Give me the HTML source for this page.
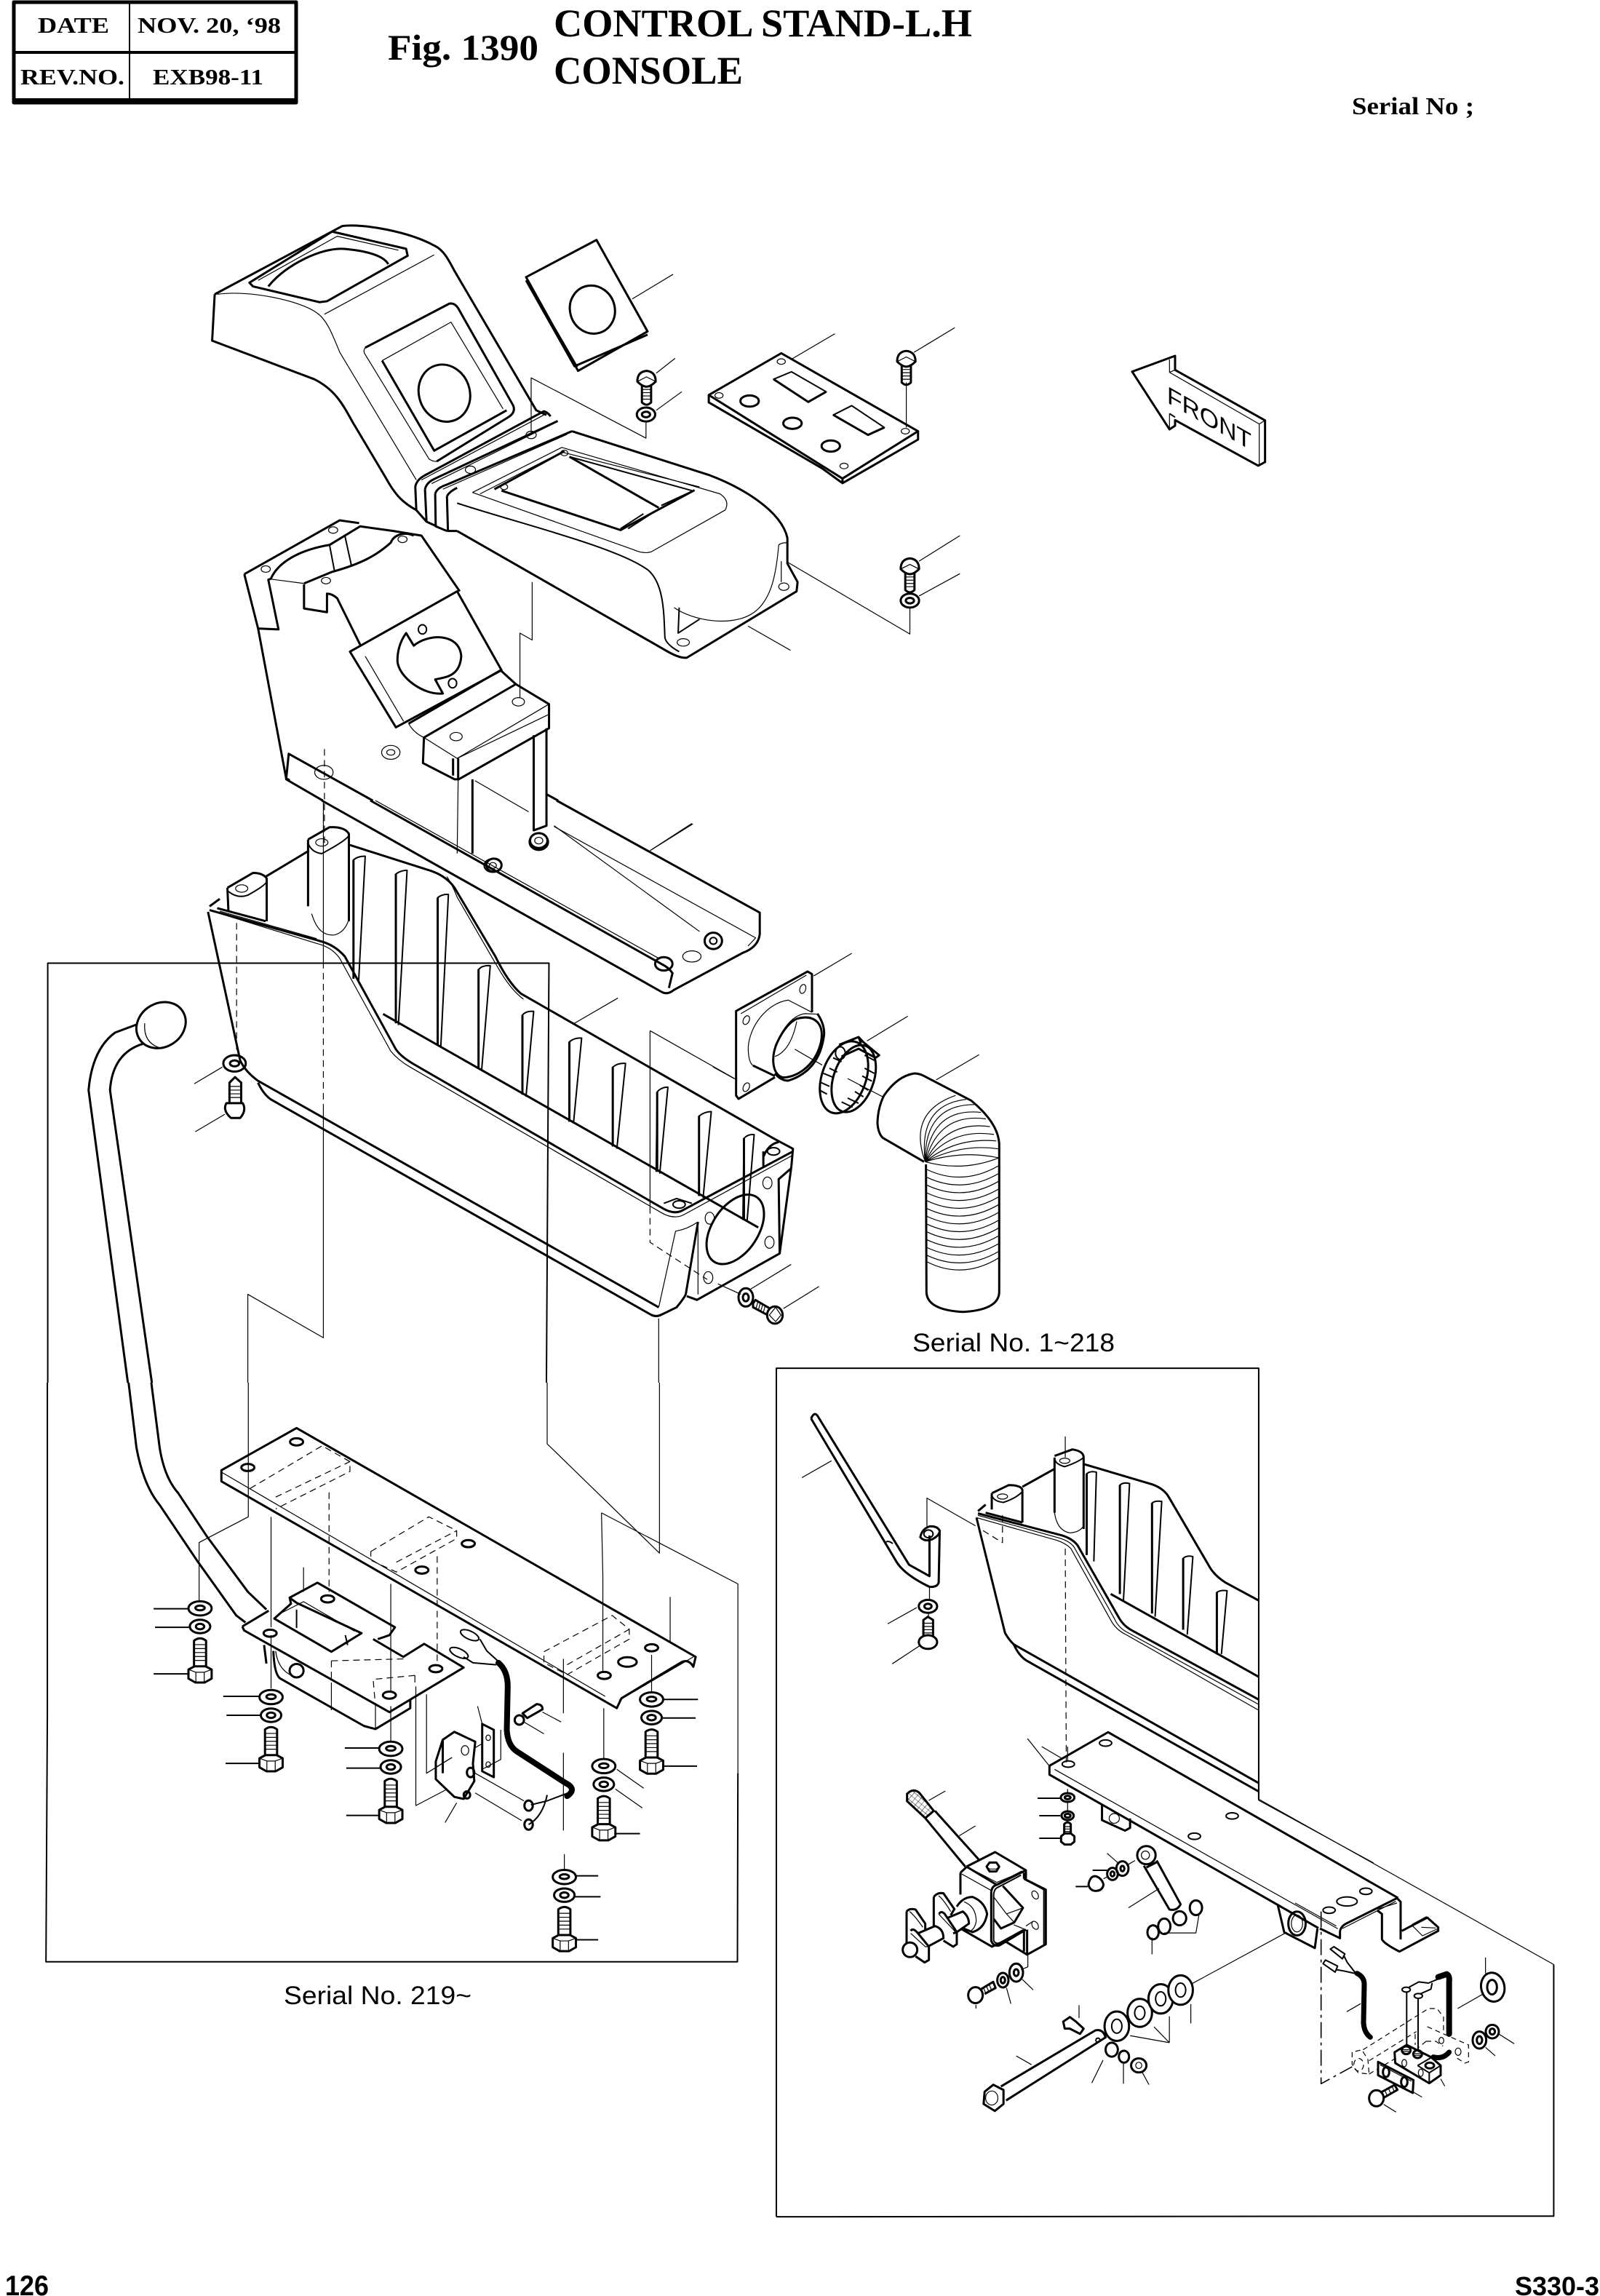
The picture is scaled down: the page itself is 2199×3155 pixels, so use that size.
<!DOCTYPE html>
<html><head><meta charset="utf-8"><title>Fig. 1390 Control Stand-L.H Console</title>
<style>
html,body{margin:0;padding:0;background:#fff}
svg{display:block}
path,ellipse,line,rect{fill:none;stroke:#000;stroke-width:1.2;vector-effect:non-scaling-stroke;stroke-linejoin:round}
.t{stroke-width:3}
.m{stroke-width:2}
.d{stroke-dasharray:9 6}
.w{fill:#fff}
.k{stroke-width:6;stroke-linecap:round}
.x{fill:url(#chk)}
text{stroke:none;fill:#000}
.s{font-family:"Liberation Serif",serif;font-weight:bold}
.a{font-family:"Liberation Sans",sans-serif}
</style></head><body>
<svg xmlns="http://www.w3.org/2000/svg" width="2199" height="3155" viewBox="0 0 2199 3155">
<defs>
<pattern id="chk" width="36" height="36" patternUnits="userSpaceOnUse" patternTransform="rotate(40)"><rect width="36" height="36" fill="#fff" stroke="none"/><rect width="18" height="18" fill="#000" stroke="none"/><rect x="18" y="18" width="18" height="18" fill="#000" stroke="none"/></pattern>
<g id="stk">
<ellipse class="t w" rx="25" ry="18"/><ellipse class="t" rx="10" ry="6" cy="-1"/>
<ellipse class="t w" rx="22" ry="17" cy="46"/><ellipse class="t" rx="9" ry="7" cy="46"/>
<path class="t" d="M-13,150 L-13,82 Q0,70 13,82 L13,150"/>
<path d="M-13,92 H13 M-13,102 H13 M-13,112 H13 M-13,122 H13 M-13,132 H13"/>
<path class="t w" d="M-25,155 L-12,147 L12,147 L25,155 L25,178 L10,188 L-10,188 L-25,178 Z"/>
<path d="M-25,155 L-9,162 L9,162 L25,155 M-9,162 V188 M9,162 V188"/>
</g>
<g id="dome">
<path class="t" d="M-9,14 L-9,50 Q0,60 9,50 L9,14"/>
<path d="M-9,22 H9 M-9,29 H9 M-9,36 H9 M-9,43 H9"/>
<path class="t w" d="M-18,5 Q-18,-16 0,-18 Q18,-16 18,5 Q8,16 0,16 Q-8,16 -18,5 Z"/>
<path d="M-18,5 L0,-5 L18,5"/>
</g>
</defs>

<!-- HEADER -->
<rect x="19" y="3" width="388" height="138" style="stroke-width:5"/>
<path d="M19,72 H407" style="stroke-width:4"/>
<path d="M178,3 V141" style="stroke-width:2"/>
<path d="M19,137 H407 " style="stroke-width:4"/>
<g class="s">
<text x="52" y="45" font-size="31" textLength="98" lengthAdjust="spacingAndGlyphs">DATE</text>
<text x="189" y="45" font-size="31" textLength="197" lengthAdjust="spacingAndGlyphs">NOV. 20, ‘98</text>
<text x="28" y="116" font-size="31" textLength="143" lengthAdjust="spacingAndGlyphs">REV.NO.</text>
<text x="210" y="116" font-size="31" textLength="152" lengthAdjust="spacingAndGlyphs">EXB98-11</text>
<text x="533" y="82" font-size="50" textLength="207" lengthAdjust="spacingAndGlyphs">Fig. 1390</text>
<text x="761" y="50" font-size="54" textLength="575" lengthAdjust="spacingAndGlyphs">CONTROL STAND-L.H</text>
<text x="761" y="115" font-size="54" textLength="260" lengthAdjust="spacingAndGlyphs">CONSOLE</text>
<text x="1858" y="157" font-size="34" textLength="168" lengthAdjust="spacingAndGlyphs">Serial No ;</text>
</g>
<text class="a" x="7" y="3154" font-size="39" font-weight="bold" textLength="60" lengthAdjust="spacingAndGlyphs">126</text>
<text class="a" x="2082" y="3154" font-size="36" font-weight="bold" textLength="116" lengthAdjust="spacingAndGlyphs">S330-3</text>
<text class="a" x="1254" y="1857" font-size="35" textLength="278" lengthAdjust="spacingAndGlyphs">Serial No. 1~218</text>
<text class="a" x="390" y="2754" font-size="35" textLength="258" lengthAdjust="spacingAndGlyphs">Serial No. 219~</text>

<!-- FRONT arrow -->
<g transform="matrix(.3333 0 0 .3333 1500 440)">
<path class="t" d="M168,212 L345,147 L345,205 L716,413 L716,585 L688,600 L345,412 L345,435 L322,450 Z"/>
<path d="M322,162 L322,215 L692,428 L692,600 M345,205 L322,215 M716,413 L692,428 M322,385 L322,450"/>
<path class="m" d="M322,385 L345,400"/>
</g>
<text class="a" font-size="33" transform="matrix(1 .57 0 1 1604 553)" textLength="116" lengthAdjust="spacingAndGlyphs">FRONT</text>

<!-- TOP CONSOLE / BRACKET (zoom 2 coordinates) -->
<g transform="matrix(.7015 0 0 .6378 260 280)">
<path class="t" d="M50,195 L45,295 L245,378 C285,400 300,430 320,470 L385,590 C405,630 420,645 445,660"/>
<path class="t" d="M50,195 L300,48 C340,42 430,60 480,90 C500,100 510,125 520,145 L680,445 L700,455"/>
<path class="t" d="M118,170 L280,60 L425,97 L428,112 L270,210 L255,212 L125,178 Z"/>
<path class="t" d="M155,178 C190,130 260,95 300,97 C340,100 380,110 390,130"/>
<path d="M135,165 L290,70 L410,100 M265,238 L480,110 M55,195 C120,185 220,210 250,235 C270,250 280,280 295,320 L445,595"/>
<path d="M345,310 L510,215 Q520,213 527,225 L635,435 Q640,450 625,460 L485,555 Q478,556 470,550 L345,325 Q340,318 345,310 Z"/>
<path class="t" d="M345,310 L510,215 Q520,213 527,225 L635,435 Q640,450 625,460 L485,555"/>
<path d="M378,338 L513,255 L615,442"/>
<path class="t" d="M378,338 L480,532 L622,445"/>
<ellipse class="t" cx="500" cy="408" rx="50" ry="62" transform="rotate(-12 500 408)"/>
<!-- bellows -->
<path class="t" d="M443,610 Q445,595 462,585 L695,447 Q703,450 708,458 M462,615 Q465,600 482,592 L722,468 M482,625 Q485,612 505,605 L750,490 M505,630 Q510,620 525,612"/>
<path d="M455,595 L695,455 M475,603 L715,473 M497,615 L740,497"/>
<path class="t" d="M443,610 L445,660 L465,685 M462,615 L465,685 L485,695 M482,625 L483,695 L505,705 M505,630 L507,705 L525,705"/>
<!-- lower housing -->
<path class="t" d="M750,490 L1020,585 C1080,610 1160,660 1172,720 L1172,775 L1192,815 L1190,835 L975,978 Q960,980 930,960 L525,705"/>
<path class="m" d="M525,645 C650,690 840,740 900,790 C930,820 930,880 932,935 Q935,950 960,965"/>
<path d="M555,622 L730,525 L1040,625 Q1060,640 1050,660 L905,750 Q890,755 870,745 L555,622"/>
<path d="M570,625 L730,535 L1000,610"/>
<path class="t" d="M598,615 L735,533 M745,545 L920,655 M612,618 L845,703 L990,617"/>
<path class="m" d="M745,545 L985,618 M845,700 L890,668 M925,650 L990,617 M860,700 L905,668"/>
<ellipse cx="968" cy="945" rx="12" ry="8"/><ellipse cx="1165" cy="825" rx="10" ry="8"/><ellipse cx="735" cy="537" rx="7" ry="6"/><ellipse cx="617" cy="610" rx="7" ry="6"/>
<path class="m" d="M960,870 L958,925 L1000,895"/>
<path d="M950,870 C990,900 1060,910 1100,885 C1140,860 1150,800 1155,735 Q1160,730 1172,730 M1160,770 L1160,815"/>
<ellipse cx="670" cy="498" rx="10" ry="8"/><ellipse cx="551" cy="573" rx="10" ry="8"/>
<path d="M1095,910 L1178,962 M1172,772 L1412,927 L1412,870 M670,495 L670,375 L895,505 L895,470 M672,815 L672,940 L648,925 L648,1065"/>
<!-- cover plate -->
<path class="t" d="M660,158 L798,78 L898,275 L762,360 Z M664,170 L760,352"/>
<path class="t" d="M660,165 L755,350 L898,282"/>
<ellipse class="t" cx="790" cy="228" rx="44" ry="52" transform="rotate(-10 790 228)"/>
<path d="M868,205 L948,152 M915,365 L952,333 M915,445 L965,405 M1420,320 L1500,267 M1405,385 L1405,482 M1430,770 L1510,715 M1430,845 L1510,797 M1180,335 L1265,280"/>
<use href="#dome" x="896" y="378"/>
<ellipse class="t" cx="895" cy="454" rx="18" ry="15"/><ellipse class="t" cx="895" cy="454" rx="8" ry="6"/>
<use href="#dome" x="1405" y="335"/>
<use href="#dome" x="1412" y="782"/>
<ellipse class="t" cx="1412" cy="855" rx="18" ry="15"/><ellipse class="t" cx="1412" cy="855" rx="8" ry="6"/>
<!-- switch plate -->
<path class="t" d="M1018,412 L1160,322 L1428,490 L1280,592 Z"/>
<path class="t" d="M1018,412 L1018,428 L1240,570 Q1265,590 1280,602 L1428,508 L1428,490 M1280,592 L1280,602"/>
<path class="m" d="M1145,378 L1180,362 L1248,405 L1213,427 Z M1262,455 L1298,435 L1362,482 L1330,498 Z"/>
<path class="t" d="M1145,378 L1213,427 L1248,405 M1262,455 L1330,498 L1362,482"/>
<ellipse class="t" cx="1098" cy="425" rx="18" ry="12"/><ellipse class="t" cx="1182" cy="473" rx="18" ry="12"/><ellipse class="t" cx="1257" cy="522" rx="18" ry="12"/>
<ellipse cx="1038" cy="413" rx="8" ry="6"/><ellipse cx="1160" cy="340" rx="8" ry="6"/><ellipse cx="1283" cy="565" rx="8" ry="6"/><ellipse cx="1403" cy="490" rx="8" ry="6"/>
<!-- bracket -->
<path class="t" d="M108,798 L295,682 L333,688 M108,798 L135,915 L190,1238 L197,1242 M135,915 L175,917 L155,810 L160,808"/>
<path class="t" d="M160,808 C175,770 220,745 275,735 L335,695 L400,705 L455,715 L530,835"/>
<path d="M155,808 L225,818"/>
<path class="t" d="M225,818 L280,793 C340,775 370,755 395,730 C400,715 420,705 440,715 M225,820 L225,872 L270,880 L270,840 Q280,840 290,850 L335,950"/>
<path class="m" d="M275,735 L285,793 M305,715 L318,780"/>
<ellipse cx="150" cy="787" rx="9" ry="7"/><ellipse cx="282" cy="703" rx="9" ry="7"/><ellipse cx="268" cy="812" rx="9" ry="7"/><ellipse cx="418" cy="723" rx="9" ry="7"/>
<path class="t" d="M315,965 L525,835 L612,1005 L405,1128 Z"/>
<path d="M345,975 L420,1115"/>
<path class="t" d="M425,925 L440,952 C470,925 530,925 533,975 C530,1020 500,1020 482,1025 L497,1055 C460,1060 410,1020 408,985 C408,960 415,940 425,925 Z"/>
<ellipse class="m" cx="457" cy="917" rx="8" ry="10"/><ellipse class="m" cx="516" cy="1033" rx="8" ry="10"/>
<path class="t" d="M430,1120 L610,1005 L640,1035"/>
<path d="M430,1120 Q440,1140 460,1150"/>
<path class="t" d="M460,1150 L640,1035 L705,1078 L705,1130 L528,1240 L520,1240 L458,1205 Z"/>
<path d="M460,1150 L525,1195 L705,1078 M525,1195 L705,1100"/>
<path class="t" d="M517,1195 L517,1232 M527,1195 L527,1240"/>
<ellipse cx="645" cy="1073" rx="12" ry="9"/><ellipse cx="523" cy="1148" rx="12" ry="9"/>
<path d="M527,1240 L525,1400"/><path class="t" d="M555,1240 L555,1400"/>
<path class="t" d="M675,1145 L675,1350 L700,1340 L700,1130"/>
<path d="M560,1243 L665,1310 M715,1340 L1000,1568 M905,1392 L985,1335"/>
<ellipse cx="395" cy="1182" rx="18" ry="15"/><ellipse cx="395" cy="1182" rx="8" ry="6"/>
<ellipse cx="264" cy="1225" rx="18" ry="15"/>
<path class="d" d="M265,1175 L265,1380"/>
<path class="t" d="M262,1286 L190,1240 L195,1185 L360,1286 M700,1272 L723,1286"/>
<ellipse class="t w" cx="685" cy="1375" rx="18" ry="17"/><ellipse class="m" cx="685" cy="1375" rx="8" ry="7"/>
<ellipse class="t" cx="597" cy="1425" rx="15" ry="14"/>
</g>

<!-- TRAY + LEVER (zoom 3 coordinates) -->
<g transform="matrix(.7015 0 0 .5102 60 1100)">
<!-- channel -->
<path class="t" d="M545,0 L1210,515 Q1222,525 1235,510 L1370,410 Q1400,395 1403,360 L1403,302 L1005,0"/>
<path class="t" d="M640,0 L1210,440 Q1225,450 1232,465 L1225,505"/>
<path d="M650,0 L1205,425 M1000,70 L1395,370 L1380,392 M1188,135 L1272,63"/>
<ellipse class="t" cx="1312" cy="378" rx="17" ry="22"/><ellipse class="m" cx="1312" cy="378" rx="7" ry="9"/>
<ellipse class="t" cx="1215" cy="440" rx="17" ry="18"/><ellipse class="m" cx="880" cy="175" rx="17" ry="18"/><ellipse cx="880" cy="175" rx="7" ry="8"/>
<ellipse class="t w" cx="970" cy="108" rx="17" ry="20"/><ellipse cx="970" cy="108" rx="8" ry="9"/>
<ellipse cx="1270" cy="420" rx="18" ry="15"/>
<!-- posts -->
<path class="t" d="M360,235 L410,195 Q430,195 437,210 L437,325 M360,235 L362,298"/>
<path class="m" d="M437,215 Q440,225 400,255 Q380,265 362,245"/>
<ellipse cx="388" cy="237" rx="12" ry="10"/>
<path class="t" d="M518,105 L560,72 Q590,70 598,90 L598,325 M518,105 L518,285"/>
<path class="m" d="M598,95 Q590,110 545,143 Q525,140 518,115"/>
<path d="M525,305 C535,350 550,365 570,362 Q590,355 598,320"/>
<ellipse cx="545" cy="113" rx="12" ry="10"/>
<!-- tray body -->
<path class="t" d="M435,205 L520,135 M600,120 L760,190 Q790,205 805,235 L885,420 Q910,490 935,520 L1430,910 L1468,938 L1465,985 L1442,1220 L1280,1345 L1260,1335"/>
<path d="M790,205 Q800,225 810,260 L890,450 Q915,510 940,535"/>
<path class="t" d="M325,285 L345,265 M340,290 L435,325 M325,295 L540,378 Q570,388 590,420 L690,670 Q700,690 725,710 L1215,1100 Q1235,1115 1250,1105 L1468,945"/>
<path d="M335,300 L535,385 Q565,395 580,425 L680,675 Q695,700 718,718 L1210,1110 Q1235,1130 1255,1115 L1468,955 M345,298 L535,372"/>
<path class="t" d="M322,300 L385,700 Q395,730 420,755 L1205,1365 M420,760 Q430,790 445,805 L1190,1385 Q1200,1392 1210,1385 L1240,1365 Q1255,1340 1258,1330 L1282,1135"/>
<path d="M1205,1365 L1238,1160 Q1260,1155 1282,1135 M1282,1135 L1282,1330"/>
<path class="t" d="M665,575 L1400,1150"/>
<!-- ribs -->
<path class="m" d="M607,480 L607,160 Q615,150 630,150 L617,490 M690,600 L690,198 Q700,188 712,188 L695,605 M772,660 L772,262 Q780,252 793,253 L778,665 M852,722 L852,455 Q860,443 875,445 L858,728 M938,792 L938,578 Q945,566 960,568 L945,798 M1030,865 L1030,650 Q1040,638 1054,640 L1038,870 M1115,932 L1115,718 Q1125,706 1140,708 L1123,938 M1200,1000 L1202,785 Q1210,772 1223,772 L1207,1005 M1284,1065 L1284,850 Q1295,838 1308,838 L1292,1070 M1370,1130 L1372,910 Q1380,898 1392,900 L1378,1135"/>
<path class="t" d="M607,480 L607,160 M690,600 L690,198 M772,660 L772,262 M852,722 L852,455 M938,792 L938,578 M1030,865 L1030,650 M1115,932 L1115,718 M1202,1000 L1202,785 M1284,1065 L1284,850 M1372,1130 L1372,910"/>
<!-- end face -->
<path class="t" d="M1410,960 Q1420,925 1440,920 M1410,945 L1410,985"/>
<ellipse class="m" cx="1430" cy="945" rx="12" ry="10"/>
<ellipse class="m" cx="1245" cy="1088" rx="12" ry="10"/>
<path class="m" d="M1215,1085 L1240,1072 L1270,1085"/>
<ellipse class="t" cx="1355" cy="1155" rx="48" ry="98" transform="rotate(20 1355 1155)"/>
<ellipse cx="1305" cy="1125" rx="9" ry="16"/><ellipse cx="1418" cy="1030" rx="9" ry="16"/><ellipse cx="1422" cy="1190" rx="9" ry="16"/><ellipse cx="1302" cy="1285" rx="9" ry="16"/>
<path class="t" d="M1465,990 L1440,1020 L1442,1220"/>
<!-- washers/bolts -->
<ellipse class="t" cx="374" cy="708" rx="22" ry="22"/><ellipse class="t" cx="374" cy="708" rx="9" ry="8"/>
<path class="t" d="M364,815 L364,760 L375,745 L387,760 L387,815"/>
<path d="M364,770 H387 M364,780 H387 M364,790 H387 M364,800 H387"/>
<path class="t" d="M358,815 L390,815 Q398,835 385,855 L367,855 Q350,835 358,815 Z"/>
<path d="M350,718 L295,763 M355,845 L297,892 M1040,600 L1125,532"/>
<!-- connectors -->
<path d="M548,0 L548,435 M548,830 L548,1447 L400,1330 L400,1568 M1188,620 L1355,750 M1188,620 L1188,1095 M1205,1395 L1205,1568"/>
<path class="d" d="M548,435 L548,830 M378,330 L378,690 M1188,1095 L1188,1190 L1300,1290"/>
<!-- frame -->
<path class="m" d="M8,1568 L8,438 L990,438 L985,1568"/>
<!-- lever -->
<ellipse class="t w" cx="230" cy="605" rx="47" ry="63" transform="rotate(15 230 605)"/>
<path d="M198,600 Q195,650 225,665"/>
<path class="t" d="M183,603 L140,625 Q95,670 88,780 L165,1568 M195,655 Q135,680 130,780 L212,1568"/>
</g>

<!-- DUCT (zoom 7 coordinates) -->
<g transform="matrix(.3333 0 0 .3571 980 1300)">
<path class="t" d="M870,830 L700,738 Q680,720 678,680 Q680,620 705,575 Q760,500 830,490 Q850,490 870,500 L1065,595 Q1175,680 1180,760 L1180,1330 Q1180,1400 1030,1408 Q880,1400 880,1330 L878,840"/>
<path d="M875,830 Q1030,785 1178,815 M875,830 Q1020,760 1175,780 M875,830 Q1000,735 1168,750 M875,830 Q980,700 1158,725 M875,830 Q960,670 1142,695 M875,830 Q930,640 1125,665 M875,830 Q900,620 1105,640 M875,830 Q870,610 1080,610 M875,830 Q845,610 1045,590 M875,830 Q800,640 1000,575"/>
<path d="M875,830 Q1030,870 1178,815 M882,860 Q1030,925 1178,845 M882,890 Q1030,955 1178,875 M882,920 Q1030,985 1178,905 M882,950 Q1030,1015 1178,935 M882,980 Q1030,1045 1178,965 M882,1010 Q1030,1075 1178,995 M882,1040 Q1030,1105 1178,1025 M882,1070 Q1030,1135 1178,1055 M882,1100 Q1030,1165 1178,1085 M882,1130 Q1030,1195 1178,1115 M882,1160 Q1030,1225 1178,1145 M882,1190 Q1030,1255 1178,1175 M882,1215 Q1030,1285 1178,1200"/>
<path d="M920,515 L1097,418 M635,365 L803,270 M415,115 L572,28 M0,465 L87,510 M337,397 L450,458 M555,510 L700,580 M155,1320 L322,1225 M290,1395 L437,1310 M20,1300 L115,1340"/>
<!-- clamp -->
<ellipse class="t" cx="540" cy="505" rx="90" ry="145" transform="rotate(22 540 505)"/>
<ellipse class="t" cx="580" cy="510" rx="82" ry="135" transform="rotate(22 580 510)"/>
<path class="m" d="M495,430 L530,445 M480,470 L512,485 M455,490 L495,505 M445,525 L480,540 M440,555 L470,570 M625,420 L665,440 M625,470 L665,490 M615,500 L655,520 M605,535 L640,555 M585,560 L620,580 M555,585 L600,605 M530,600 L575,620"/>
<path class="t" d="M520,380 L600,350 L620,370 L685,420 L670,430 L600,395 L530,425 M600,350 L610,375"/>
<ellipse class="m" cx="525" cy="412" rx="20" ry="24"/>
<!-- flange -->
<path class="t" d="M408,255 L408,108 L390,98 L95,250 L95,575 L105,588 L255,505"/>
<path d="M115,260 L385,112 M145,390 C150,310 220,220 310,208 L408,255"/>
<path class="t" d="M165,460 L255,500"/>
<path d="M145,390 C145,420 150,450 165,460 M345,290 C330,360 300,410 255,425"/>
<ellipse cx="137" cy="285" rx="12" ry="18" transform="rotate(30 137 285)"/><ellipse cx="370" cy="165" rx="12" ry="18" transform="rotate(20 370 165)"/><ellipse cx="137" cy="543" rx="12" ry="18" transform="rotate(30 137 543)"/>
<path class="t" d="M430,260 Q460,300 458,340 Q440,480 310,518 Q280,518 255,490"/>
<path class="t" d="M345,280 C420,260 460,300 445,370 C420,470 330,510 285,505 C240,490 240,420 265,370 C290,320 320,290 345,280 Z"/>
<path d="M255,385 C290,310 330,265 380,260 L430,262"/>
<!-- washer + bolt -->
<ellipse class="t" cx="135" cy="1352" rx="30" ry="35"/><ellipse class="t" cx="135" cy="1352" rx="12" ry="15"/>
<path class="t" d="M165,1375 L175,1362 L235,1395 L225,1420 L165,1390 Z"/>
<path d="M185,1368 L178,1392 M195,1373 L188,1397 M205,1378 L198,1402 M215,1384 L208,1408"/>
<ellipse class="t w" cx="255" cy="1420" rx="32" ry="33"/><path d="M232,1420 L258,1390 L280,1420 L258,1445 Z"/>
</g>

<!-- LOWER LEFT (zoom 4 coordinates) -->
<g transform="matrix(.6378 0 0 .5421 60 1900)">
<path class="m" d="M8,0 L8,830 L5,1468 L1495,1468 L1496,990"/>
<path d="M1202,330 L1496,510 L1496,1000 M1085,0 L1085,155 L1327,432 L1327,0 M1202,330 L1205,490 M1205,490 L1205,730 M1207,825 L1207,960 M441,0 L441,340 L335,405 L335,555 M490,340 L490,620 M490,640 L490,775 M748,510 L748,785 M748,820 L748,910 M1310,690 L1310,785 M1350,543 L1350,660 M1120,700 L1120,838 M1120,938 L1120,1135 M1122,1195 L1122,1235 M560,468 L560,530"/>
<!-- lever -->
<path class="t" d="M183,0 L200,165 Q215,260 250,310 L330,450 L415,590 L435,608 M232,0 L250,165 Q260,240 290,280 L352,390 L440,530 L480,575"/>
<!-- base plate -->
<path class="t" d="M383,222 L545,115 L1405,695 L1400,720 Q1390,700 1375,708 L1245,800 L1235,825 L383,250 Z"/>
<path d="M385,228 L1210,795 M1240,805 L1400,695"/>
<ellipse class="t" cx="545" cy="150" rx="14" ry="9"/><ellipse class="t" cx="440" cy="215" rx="14" ry="9"/><ellipse class="t" cx="915" cy="408" rx="14" ry="9"/><ellipse class="t" cx="815" cy="475" rx="14" ry="9"/><ellipse class="t" cx="1208" cy="742" rx="14" ry="9"/><ellipse class="t" cx="1310" cy="672" rx="14" ry="9"/><ellipse class="t" cx="1258" cy="708" rx="20" ry="12"/>
<path class="d" d="M445,268 L600,160 L660,200 L660,225 L500,320 M500,290 L660,200 M615,278 L615,530 M705,428 L830,340 L890,375 L890,395 L760,480 L705,450 Z M760,455 L890,375 M848,440 L848,710 M1078,682 L1225,590 L1262,625 L1262,650 L1128,740 L1078,710 Z M1128,715 L1262,625"/>
<!-- mount bracket -->
<path class="t" d="M428,618 L432,628 L745,835 L905,722 L820,662 L775,695 L710,650 M428,618 L485,578 M530,545 L590,507 L757,620 L745,640 L720,650 M530,545 L533,560 L497,598 L620,682 L685,635 L545,558 Z"/>
<path d="M510,585 L560,555 L670,630"/>
<path class="m" d="M545,575 L545,622 M650,640 L655,665"/>
<ellipse class="t" cx="488" cy="635" rx="14" ry="9"/><ellipse class="t" cx="612" cy="548" rx="14" ry="9"/><ellipse class="t" cx="845" cy="725" rx="14" ry="9"/><ellipse class="t" cx="745" cy="792" rx="14" ry="9"/>
<path class="t" d="M475,665 L480,712 M495,680 Q497,740 510,750 L690,870 L715,878 L790,825 L790,805"/>
<path d="M620,760 L620,830 M715,820 L715,878 M800,742 L800,760 M825,790 L825,990 L880,950 M802,770 L802,1072 L870,1030"/>
<ellipse class="t" cx="545" cy="730" rx="15" ry="17"/>
<path d="M500,680 Q505,730 540,745"/>
<path class="d" d="M620,705 L620,760 M800,742 L710,752 L715,820 M620,705 L780,700"/>
<!-- stacks -->
<use href="#stk" x="337" y="572"/><use href="#stk" x="490" y="797"/><use href="#stk" x="748" y="928"/><use href="#stk" x="1310" y="803"/><use href="#stk" x="1207" y="972"/><use href="#stk" x="1122" y="1253"/>
<path class="m" d="M237,573 H312 M240,620 H315 M237,738 H312 M387,795 H465 M394,843 H468 M392,965 H467 M649,926 H723 M652,977 H727 M652,1097 H725 M1335,803 H1410 M1330,850 H1405 M1335,972 H1408 M1232,1143 H1285 M1147,1250 H1195 M1145,1303 H1200 M1147,1412 H1195"/>
<path d="M1235,980 L1293,1028 M1232,1030 L1290,1078"/>
<!-- wire -->
<path class="k" style="stroke-width:8" d="M980,710 Q1000,730 1000,770 L998,880 Q1000,920 1020,935 L1125,1015 Q1150,1030 1128,1048"/>
<path class="m" d="M985,712 L955,680 L940,650 M975,715 L925,710 L905,695 M1130,1040 L1085,1060 L1050,1070 M1085,1045 Q1075,1100 1045,1120"/>
<ellipse class="m" cx="918" cy="640" rx="22" ry="10" transform="rotate(30 918 640)"/><ellipse class="m" cx="895" cy="685" rx="22" ry="10" transform="rotate(30 895 685)"/>
<ellipse class="t" cx="1045" cy="1072" rx="9" ry="13"/><ellipse class="t" cx="1045" cy="1120" rx="9" ry="13"/>
<!-- switch block -->
<path class="t" d="M860,905 L885,885 L930,910 L925,965 L928,1010 L905,1055 L885,1050 L845,1005 L845,960 Z M860,905 L860,990 M945,865 L970,880 L970,1000 L945,985 Z"/>
<ellipse cx="908" cy="932" rx="8" ry="12"/><ellipse class="t" cx="920" cy="988" rx="8" ry="12"/><ellipse class="t" cx="912" cy="1045" rx="7" ry="9"/><ellipse cx="958" cy="900" rx="5" ry="7"/><ellipse cx="958" cy="968" rx="5" ry="7"/>
<path d="M890,1065 L865,1115 M935,820 L945,865 M930,990 L1035,1060 M930,1040 L1030,1110 M985,880 L985,955 L945,980 M880,950 L845,975 M1075,835 L1115,860 M1035,860 L1078,890 M930,925 L945,915"/>
<path class="t" d="M1032,838 L1062,815 Q1075,815 1075,828 L1042,850 Z"/>
<ellipse class="t" cx="1025" cy="855" rx="10" ry="12"/>
</g>

<!-- RIGHT TOP (zoom 5 coordinates) -->
<g transform="matrix(.7015 0 0 .4464 1060 1860)">
<path class="m" d="M10,1600 L10,45 L955,45 L955,1375"/>
<path d="M955,1375 L1180,1568"/>
<path class="t" d="M78,200 Q85,175 92,195 L270,650 L310,685 L310,560 M78,200 L245,640 Q260,680 310,718 Q325,720 328,705 L330,545 Q325,530 310,532 Q295,540 292,565 Q300,580 315,572 Q330,560 330,545"/>
<path class="m" d="M225,580 Q230,575 238,585"/>
<ellipse class="m" cx="308" cy="555" rx="9" ry="12"/>
<path d="M118,330 L60,382 M305,532 L305,445 L400,530 M310,720 L310,760 M308,795 L308,815 M285,782 L228,832 M295,895 L237,955 M576,255 L576,320 M545,1270 L502,1185"/>
<path class="d" d="M415,545 L453,582 L453,490 M576,600 L578,1260"/>
<ellipse class="t" cx="307" cy="778" rx="18" ry="20"/><ellipse class="t" cx="307" cy="778" rx="7" ry="8"/>
<path class="t" d="M298,875 L298,820 L307,810 L317,820 L317,875"/>
<path d="M298,830 H317 M298,840 H317 M298,850 H317 M298,860 H317"/>
<ellipse class="t w" cx="307" cy="888" rx="18" ry="21"/>
<path class="t" d="M432,430 L465,405 Q490,405 492,420 L492,520 M432,430 L432,480 M555,315 L590,295 Q612,300 612,320 L612,540 M555,320 L555,490"/>
<path class="m" d="M492,425 Q480,445 455,458 Q435,455 432,435 M612,320 Q600,335 575,348 Q555,340 555,320"/>
<path d="M555,490 Q560,545 585,552 Q605,550 612,530"/>
<ellipse cx="453" cy="440" rx="10" ry="8"/><ellipse cx="575" cy="330" rx="10" ry="8"/>
<path class="t" d="M492,410 L555,355 M612,340 L745,402 Q770,415 780,445 L860,660 Q870,685 890,705 L955,760"/>
<path d="M760,410 Q775,425 785,455 L865,670"/>
<path class="t" d="M405,485 L420,465 M420,490 L492,520 M405,492 L570,560 Q590,570 600,590 L680,810 Q690,840 710,855 L955,1065"/>
<path d="M405,498 L565,568 Q585,578 593,595 L672,815 Q680,845 700,860 L955,1080 M402,505 L560,575 Q578,585 587,600 L665,820 Q675,850 695,865 L955,1098"/>
<path class="t" d="M402,505 L458,860 Q465,880 475,895 L955,1322 M475,895 Q485,930 500,945 L955,1348 M665,740 L955,995"/>
<path class="m" d="M618,620 L618,370 Q625,360 637,365 L632,640 M683,740 L683,405 Q690,395 702,400 L690,760 M746,800 L746,460 Q752,452 765,455 L752,810 M807,850 L807,630 Q815,620 826,625 L815,865 M873,920 L873,735 Q880,727 893,730 L882,925"/>
<path class="t" d="M618,620 L618,370 M683,740 L683,405 M746,800 L746,460 M807,850 L807,630 M873,920 L873,735"/>
</g>

<!-- RIGHT LOWER (zoom 6 coordinates) -->
<g transform="matrix(.7015 0 0 .4815 1060 2400)">
<path d="M955,150 L1533,622"/>
<path class="m" d="M10,300 L10,1342 M955,150 L955,100 M1533,622 L1533,1340 L10,1342"/>
<path class="t" d="M545,55 L660,-41 L1228,432 M545,55 L545,80 L1072,518"/>
<path d="M555,65 L1110,520"/>
<ellipse class="m" cx="582" cy="50" rx="12" ry="9"/><ellipse class="m" cx="655" cy="-10" rx="12" ry="9"/><ellipse class="m" cx="903" cy="198" rx="12" ry="9"/><ellipse class="m" cx="829" cy="256" rx="12" ry="9"/><ellipse class="m" cx="1165" cy="413" rx="12" ry="9"/><ellipse class="m" cx="1128" cy="442" rx="20" ry="13"/><ellipse class="m" cx="1093" cy="467" rx="12" ry="9"/>
<path class="t" d="M648,165 L648,210 L693,240 L703,232 L703,205"/>
<ellipse cx="672" cy="205" rx="10" ry="14"/>
<!-- rod -->
<ellipse class="t" cx="735" cy="310" rx="18" ry="26"/><ellipse cx="733" cy="310" rx="8" ry="12"/>
<path class="t" d="M730,340 L780,465 Q795,470 802,450 L755,325 M735,345 L755,330"/>
<ellipse class="t" cx="800" cy="490" rx="13" ry="20"/>
<ellipse class="t" cx="770" cy="513" rx="12" ry="22"/><ellipse class="t" cx="748" cy="530" rx="11" ry="20"/><ellipse class="t" cx="832" cy="460" rx="12" ry="21"/>
<path d="M700,460 L760,405 M838,480 L832,532 L770,532 M746,545 L746,593"/>
<!-- pin -->
<path class="t" d="M450,970 L635,810 Q650,805 655,830 L460,1010 M418,985 L435,965 L455,980 L455,1020 L438,1040 L416,1020 Z"/>
<ellipse cx="432" cy="1003" rx="12" ry="20"/>
<ellipse class="m" cx="640" cy="838" rx="4" ry="6"/>
<path d="M480,883 L510,908 M603,738 L603,775 M820,680 L1010,530 M703,825 L780,845 M750,800 L780,845 M780,770 L780,845 M822,735 L822,790 M650,895 L628,960 M690,905 L690,962 M727,930 L740,965"/>
<path class="t" d="M572,785 L585,772 L597,785 L612,805 L605,820 L585,805 L575,805 Z"/>
<ellipse class="t w" cx="677" cy="798" rx="24" ry="42"/><ellipse class="m" cx="677" cy="798" rx="10" ry="20"/>
<ellipse class="t w" cx="722" cy="760" rx="24" ry="40"/><ellipse class="m" cx="722" cy="760" rx="10" ry="19"/>
<ellipse class="t w" cx="763" cy="720" rx="24" ry="42"/><ellipse class="m" cx="763" cy="720" rx="10" ry="20"/>
<ellipse class="t w" cx="802" cy="695" rx="24" ry="42"/><ellipse class="m" cx="802" cy="695" rx="10" ry="20"/>
<ellipse class="t" cx="667" cy="865" rx="12" ry="20"/><ellipse class="t" cx="691" cy="885" rx="10" ry="17"/><ellipse class="t" cx="720" cy="910" rx="15" ry="20"/><ellipse cx="720" cy="910" rx="6" ry="9"/>
<!-- lug -->
<path class="t" d="M992,450 L1005,530 L1065,575 L1070,520"/>
<ellipse class="t" cx="1030" cy="505" rx="17" ry="34"/><ellipse cx="1030" cy="505" rx="11" ry="24"/>
</g>

<!-- LEVER UNIT (zoom 10 coordinates) -->
<g transform="matrix(.3333 0 0 .3333 1200 2400)">
<path class="t x" d="M140,195 Q165,170 190,190 L250,265 L215,295 L140,225 Z"/>
<path class="t" d="M215,295 L380,495 M255,265 L435,465"/>
<path d="M230,222 L298,183 M355,368 L422,327 M695,0 L775,47 M802,0 L802,60"/>
<path class="t" d="M385,495 L503,435 L630,510 L630,545 M385,495 L510,570 L630,510 M360,520 L385,497 M360,520 L360,610 M360,750 L490,825 L545,800"/>
<path d="M395,500 L510,560 L620,515 M365,525 L490,595"/>
<path class="t" d="M468,495 L480,478 L508,478 L520,495 L508,515 L480,515 Z"/>
<path d="M468,495 L480,505 L508,505 L520,495"/>
<path class="t" d="M487,600 Q490,575 510,570 L615,515 M487,600 L487,800 Q495,825 520,820 L630,755"/>
<path class="m" d="M497,610 Q500,585 515,580 L610,530 M497,610 L497,800 Q505,815 520,810 L620,755"/>
<path class="t" d="M622,545 L712,590 L712,815 L635,858 L548,805 M622,520 L622,545 M635,755 L635,858 M622,760 L622,845"/>
<path class="m" d="M630,550 L704,590 L704,815"/>
<ellipse cx="668" cy="612" rx="12" ry="18" transform="rotate(-30 668 612)"/><ellipse cx="668" cy="737" rx="12" ry="18" transform="rotate(-30 668 737)"/>
<path d="M630,740 L660,720 M580,735 L630,755"/>
<path class="t" d="M535,575 L618,665 L582,725 L527,750 L497,710"/>
<path d="M497,620 L550,690 L618,665 M550,690 L582,725"/>
<path class="t" d="M345,660 Q370,620 410,620 Q460,640 470,690 Q460,750 410,765 L360,745"/>
<path d="M375,640 Q425,660 425,720 Q420,750 400,762"/>
<path class="t" d="M250,620 Q265,600 290,605 L335,670 L320,695 M250,620 L250,765 M330,770 L345,765 L345,815 L330,825 L290,800 M138,680 Q150,665 175,672 L215,730 L215,755 M138,680 L138,810 M230,825 L230,880 L212,890 L175,865"/>
<path d="M270,615 Q290,630 320,680 M150,680 Q170,695 205,745 M155,770 L215,825 L230,825 M270,690 L345,770"/>
<path class="t w" d="M185,770 L255,740 Q290,750 290,790 L225,825"/>
<path class="t" d="M155,760 Q165,745 185,770 L230,825"/>
<path class="t w" d="M310,705 L370,680 Q395,700 395,730 L345,765"/>
<path class="t" d="M272,690 Q280,675 295,690 L345,765"/>
<ellipse class="t w" cx="152" cy="838" rx="30" ry="30"/>
<path d="M638,860 L638,908 L610,920 M615,960 L660,1003 M550,995 L568,1060 M424,1065 L424,1080"/>
<ellipse class="t" cx="590" cy="932" rx="28" ry="37"/><ellipse class="t" cx="590" cy="932" rx="10" ry="14"/>
<ellipse class="t" cx="535" cy="963" rx="23" ry="30"/><ellipse class="t" cx="535" cy="963" rx="9" ry="13"/>
<path class="t" d="M445,1000 L495,970 L505,995 L460,1020"/>
<path d="M455,995 L465,1018 M467,988 L477,1010 M478,980 L488,1003"/>
<ellipse class="t w" cx="422" cy="1025" rx="30" ry="33"/>
<ellipse class="t w" cx="802" cy="210" rx="28" ry="18"/><ellipse class="t" cx="802" cy="210" rx="12" ry="7"/>
<ellipse class="t w" cx="802" cy="285" rx="25" ry="18"/><ellipse class="t" cx="802" cy="285" rx="12" ry="8"/>
<path class="t" d="M788,365 L788,320 Q802,305 815,320 L815,365"/>
<path d="M788,330 H815 M788,340 H815 M788,350 H815 M802,175 L802,195 M802,230 L802,265"/>
<path class="t w" d="M775,370 L790,358 L815,358 L830,370 L830,392 L815,404 L790,404 L775,392 Z"/>
<path class="m" d="M678,213 H772 M685,285 H772 M685,378 H772"/>
<path class="t" d="M888,570 Q895,530 920,535 Q945,545 950,570 Q945,595 918,595 Q895,595 888,570 Z"/>
<ellipse class="t" cx="987" cy="525" rx="22" ry="25"/><ellipse class="t" cx="987" cy="525" rx="8" ry="10"/>
<ellipse class="t" cx="1028" cy="503" rx="25" ry="30"/><ellipse class="t" cx="1028" cy="503" rx="8" ry="11"/>
<path class="m" d="M835,577 H885 M905,510 H965"/>
<path d="M965,440 L1010,480 M950,545 L970,535 M1045,490 L1080,470"/>
</g>

<!-- TERMINAL DETAIL (zoom 11 coordinates) -->
<g transform="matrix(.3333 0 0 .3333 1780 2600)">
<path class="t" d="M185,160 Q190,140 210,130 L420,25 L435,40 L435,195 M185,160 L185,190 L102,150 M338,75 L358,90 L358,195 Q370,215 430,245 L590,160 L590,145 L545,105 L440,160"/>
<path class="k" style="stroke-width:3" d="M485,135 L540,105"/>
<path d="M195,150 L415,38 M340,70 L420,45 M485,140 L525,180 L590,150 M520,145 L580,148"/>
<path d="M0,45 L170,140"/>
<path class="d" style="stroke-width:1.6;stroke-dasharray:22 6 4 6" d="M107,80 L107,790 L235,720"/>
<path class="k" style="stroke-width:7" d="M255,335 Q285,350 285,380 L282,540 Q285,580 310,598"/>
<path class="m" d="M250,335 L215,290 L200,260 M245,335 L200,325 L170,320"/>
<path class="m" d="M145,235 L160,225 L205,255 L195,275 Z M115,295 L125,280 L175,305 L165,330 Z"/>
<path d="M270,460 L213,493 M600,770 L617,800 M488,825 L523,845 M365,875 L416,907 M785,270 L785,335 M670,480 L775,420 M840,585 L903,625 M785,640 L825,675"/>
<path class="k" style="stroke-width:8" d="M590,350 L625,338 Q638,345 635,370 L635,585"/>
<path class="m" d="M590,358 L550,375 L510,370 L470,392 M565,375 L560,400 L515,420"/>
<ellipse class="m" cx="458" cy="402" rx="17" ry="10"/><ellipse class="m" cx="508" cy="428" rx="17" ry="10"/>
<path class="m" d="M460,412 L460,635 M507,440 L507,650"/>
<path class="d" style="stroke-dasharray:7 5" d="M235,660 L235,710 L260,745 L305,750 L300,690 L275,650 Z M280,650 L550,480 L585,480 L612,515 L612,585 M305,695 L500,575 M305,750 L440,670 M495,585 L495,630 M545,555 L715,630 L715,700 L700,705 L660,680 M540,615 L510,640 M540,615 L580,615 L610,635"/>
<ellipse class="d" style="stroke-dasharray:7 5" cx="262" cy="712" rx="20" ry="26"/>
<ellipse cx="672" cy="658" rx="12" ry="15"/><ellipse cx="603" cy="612" rx="10" ry="13"/>
<path class="t w" d="M410,660 L460,630 L560,680 L600,715 L600,755 L553,788 L413,705 Z"/>
<path class="m" d="M505,715 L553,745 L553,788 M505,715 L565,680 M553,745 L600,715"/>
<ellipse class="t" cx="555" cy="715" rx="18" ry="12"/><ellipse cx="450" cy="705" rx="10" ry="15"/><ellipse cx="518" cy="745" rx="10" ry="15"/>
<ellipse class="t" cx="458" cy="652" rx="18" ry="16"/><ellipse class="t" cx="505" cy="668" rx="18" ry="16"/><path d="M445,650 H470 M445,657 H470 M492,666 H518 M492,673 H518"/>
<path class="k" style="stroke-width:7" d="M570,680 Q610,690 635,660"/>
<path class="t w" d="M342,700 L488,775 L485,828 L342,755 Z"/>
<path d="M350,712 L480,780"/>
<ellipse class="t" cx="375" cy="742" rx="13" ry="20"/><ellipse class="t" cx="450" cy="783" rx="13" ry="20"/>
<path class="t" d="M355,825 L410,795 L422,815 L365,848"/>
<path d="M370,818 L380,840 M385,810 L395,832 M400,802 L410,824"/>
<ellipse class="t w" cx="335" cy="850" rx="30" ry="33"/>
<ellipse class="t w" cx="815" cy="392" rx="48" ry="60" transform="rotate(-12 815 392)"/><ellipse class="t" cx="812" cy="392" rx="20" ry="30"/>
<ellipse class="t" cx="760" cy="610" rx="28" ry="35"/><ellipse class="t" cx="760" cy="610" rx="11" ry="16"/>
<ellipse class="t" cx="813" cy="575" rx="27" ry="28"/><ellipse class="t" cx="813" cy="575" rx="11" ry="12"/>
</g>
</svg>
</body></html>
